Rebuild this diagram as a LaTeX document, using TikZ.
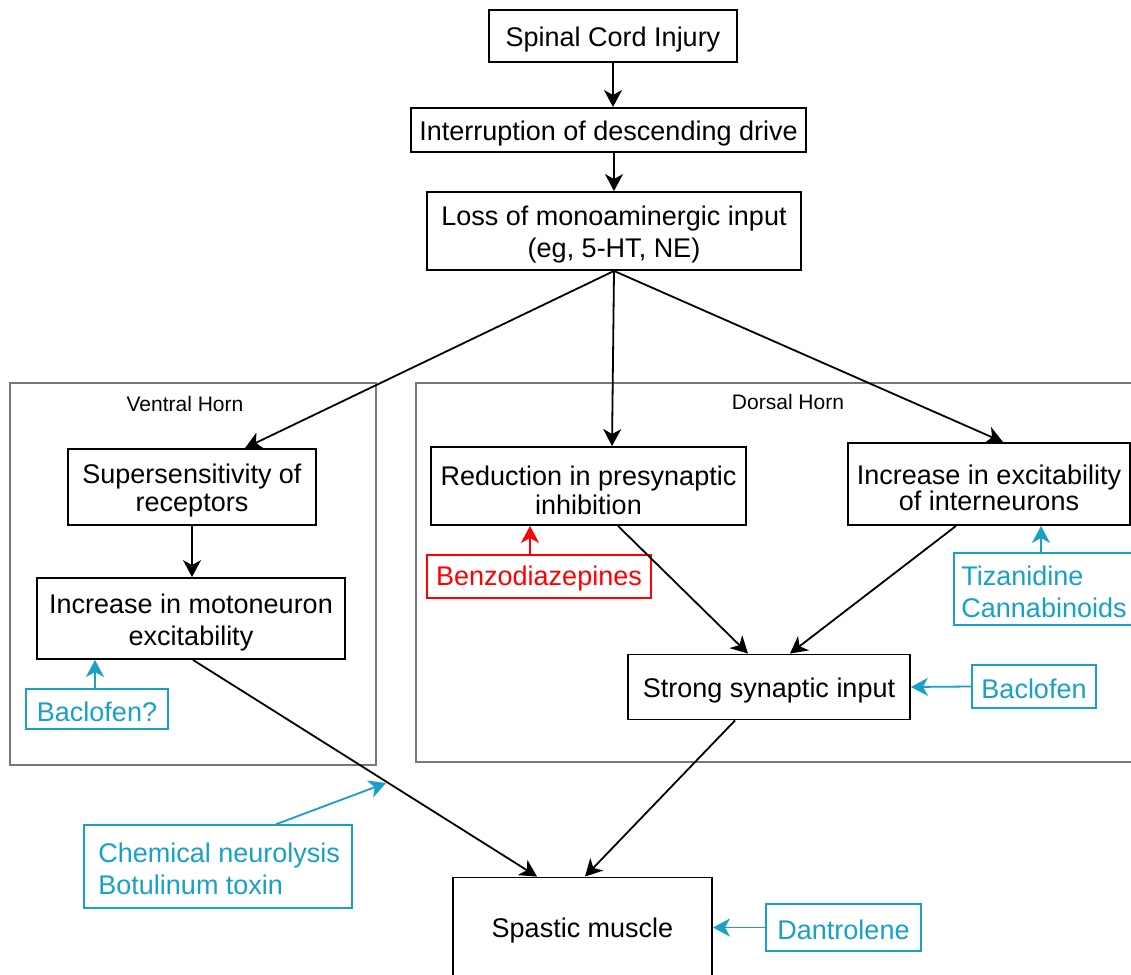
\documentclass[tikz,border=0pt]{standalone}
\usepackage{fontspec}
\setmainfont{Liberation Sans}
\usetikzlibrary{arrows.meta,calc}
\definecolor{drug}{RGB}{23,160,200}
\definecolor{panelgray}{RGB}{120,120,120}
\definecolor{drugred}{RGB}{255,0,0}
\begin{document}
\begin{tikzpicture}[x=1pt,y=-1pt,
  lab/.style={align=center,inner sep=0pt,yshift=-4pt,text=black,font=\fontsize{27}{#1}\selectfont},
  lab/.default=31,
  dlab/.style={lab=#1,yshift=1.5pt,text=drug},
  dlab/.default=31,
  rlab/.style={lab=#1,yshift=1.5pt,text=drugred},
  rlab/.default=31,
  box/.style={draw=black,line width=1.9pt,inner sep=0pt},
  drugbox/.style={draw=drug,line width=1.5pt,inner sep=0pt},
  redbox/.style={draw=drugred,line width=1.5pt,inner sep=0pt},
  panel/.style={draw=panelgray,line width=1.4pt},
  plabel/.style={font=\fontsize{21}{25}\selectfont,inner sep=0pt},
  tip/.style={-{Stealth[length=17pt,width=18pt,inset=5pt]},line width=1.8pt},
  arr/.style={tip,draw=black},
  darr/.style={tip,draw=drug},
  rarr/.style={tip,draw=drugred}]
\useasboundingbox (0,0) rectangle (1131,974);
\fill[white] (0,0) rectangle (1131,974);

% panels
\draw[panel] (10,383) rectangle (376,765);
\draw[panel] (416,383) rectangle (1145,762);
\node[plabel] (vh) at (185,404) {Ventral Horn};
\node[plabel] (dh) at (788,402) {Dorsal Horn};

% main chain
\node[box,minimum width=248pt,minimum height=52pt,
  label={[lab,name=sci-t]center:Spinal Cord Injury}] (sci) at (613,36) {};
\node[box,minimum width=395pt,minimum height=44pt,
  label={[lab,name=intr-t]center:Interruption of descending drive}] (intr) at (608.5,130) {};
\node[box,minimum width=374pt,minimum height=78pt,
  label={[lab=32,name=loss-t]center:{Loss of monoaminergic input\\(eg, 5-HT, NE)}}] (loss) at (614,231) {};

% ventral horn
\node[box,minimum width=248pt,minimum height=76pt,
  label={[lab=28,name=ss-t]center:{Supersensitivity of\\receptors}}] (ss) at (192,487) {};
\node[box,minimum width=308pt,minimum height=81pt,
  label={[lab=32,name=mn-t]center:{Increase in motoneuron\\excitability}}] (mn) at (191,618.5) {};
\node[drugbox,minimum width=142pt,minimum height=40pt,
  label={[dlab,name=bac1-t]center:Baclofen?}] (bac1) at (97,709) {};

% dorsal horn
\node[box,minimum width=315pt,minimum height=78pt,
  label={[lab=29,name=red-t]center:{Reduction in presynaptic\\inhibition}}] (red) at (588.5,486) {};
\node[redbox,minimum width=224pt,minimum height=43pt,
  label={[rlab,name=benz-t]center:Benzodiazepines}] (benz) at (539,576.5) {};
\node[box,minimum width=282pt,minimum height=82pt,
  label={[lab=25,name=inter-t]center:{Increase in excitability\\of interneurons}}] (inter) at (989,484) {};
\node[drugbox,minimum width=190pt,minimum height=72pt,
  label={[dlab=32,align=left,anchor=west,xshift=8pt,name=tiz-t]west:{Tizanidine\\Cannabinoids}}] (tiz) at (1049,589) {};
\node[box,minimum width=282pt,minimum height=65pt,
  label={[lab,name=strong-t]center:Strong synaptic input}] (strong) at (769,687) {};
\node[drugbox,minimum width=124pt,minimum height=43pt,
  label={[dlab,name=bac2-t]center:Baclofen}] (bac2) at (1034,686.5) {};

% bottom
\node[drugbox,minimum width=268pt,minimum height=83pt,
  label={[dlab=32,align=left,anchor=west,xshift=15pt,name=chem-t]west:{Chemical neurolysis\\Botulinum toxin}}] (chem) at (218,866.5) {};
\node[box,minimum width=259pt,minimum height=100pt,
  label={[lab,yshift=1pt,name=spastic-t]center:Spastic muscle}] (spastic) at (582.5,927.5) {};
\node[drugbox,minimum width=155pt,minimum height=47pt,
  label={[dlab,name=dant-t]center:Dantrolene}] (dant) at (843.5,927.5) {};
\coordinate (chemtip) at (386,783);

% connectors
\draw[arr] (sci.south) -- (sci.south |- intr.north);
\draw[arr] (loss.north |- intr.south) -- (loss.north);
\draw[arr] (loss.south) -- ([xshift=53pt]ss.north);
\draw[arr] (loss.south) -- ([xshift=23.5pt]red.north);
\draw[arr] (loss.south) -- ([xshift=14pt]inter.north);
\draw[arr] (ss.south) -- (ss.south |- mn.north);
\draw[darr] (bac1.north -| 95,0) -- (mn.south -| 95,0);
\draw[rarr] (benz.north -| 530,0) -- (red.south -| 530,0);
\draw[darr] (tiz.north -| 1041,0) -- (inter.south -| 1041,0);
\draw[arr] ([xshift=29.5pt]red.south) -- ([xshift=-21pt]strong.north);
\draw[arr] ([xshift=-33pt]inter.south) -- ([xshift=21pt]strong.north);
\draw[darr] (bac2.west) -- (strong.east);
\draw[arr] ([xshift=2pt]mn.south) -- ([xshift=-45.5pt]spastic.north);
\draw[arr] ([xshift=-34pt]strong.south) -- ([xshift=2.5pt]spastic.north);
\draw[darr] ([xshift=58pt]chem.north) -- (chemtip);
\draw[darr] (dant.west) -- (spastic.east);
\end{tikzpicture}
\end{document}
